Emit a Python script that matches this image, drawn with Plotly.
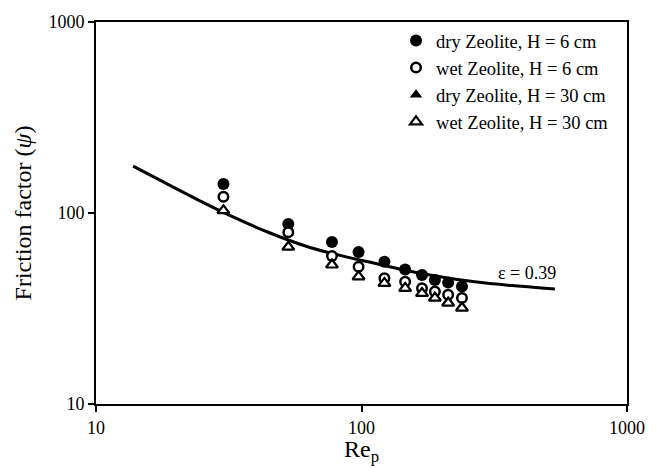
import plotly.graph_objects as go

# Data
re_p = [30.2, 53.0, 77.4, 97.5, 122, 146, 169, 189, 212, 239]
dry_6cm = [142, 87.5, 70.4, 62.5, 55.5, 50.6, 47.3, 44.6, 43.2, 41.2]
wet_6cm = [121.6, 79.3, 59.6, 52.3, 45.5, 43.7, 40.4, 38.8, 37.3, 35.9]
dry_30cm = [104, 67.0, 54.3, 47.2, 43.4, 40.9, 38.4, 36.4, 34.4, 32.4]
wet_30cm = [103, 66.3, 53.5, 46.4, 42.9, 40.4, 38.0, 35.9, 33.8, 31.8]

curve_re = [13.8, 18, 24.7, 30.3, 45, 64, 90, 112, 166, 267, 400, 535]
curve_psi = [176, 145, 115.5, 100.5, 78.8, 66.0, 58.4, 54.6, 48.4, 43.6, 41.3, 40.0]

serif = "Liberation Serif, Times New Roman, serif"

fig = go.Figure()
fig.add_trace(go.Scatter(x=curve_re, y=curve_psi, mode="lines", line=dict(color="black", width=3, shape="spline"),
                         showlegend=False, hoverinfo="skip"))
fig.add_trace(go.Scatter(x=re_p, y=dry_6cm, mode="markers", name="dry Zeolite, H = 6 cm",
                         marker=dict(symbol="circle", size=12, color="black", line=dict(color="black", width=0))))
fig.add_trace(go.Scatter(x=re_p, y=wet_6cm, mode="markers", name="wet Zeolite, H = 6 cm",
                         marker=dict(symbol="circle", size=9.5, color="white", line=dict(color="black", width=2.5))))
fig.add_trace(go.Scatter(x=re_p, y=dry_30cm, mode="markers", name="dry Zeolite, H = 30 cm",
                         marker=dict(symbol="triangle-up", size=11, color="black", line=dict(color="black", width=0))))
fig.add_trace(go.Scatter(x=re_p, y=wet_30cm, mode="markers", name="wet Zeolite, H = 30 cm",
                         marker=dict(symbol="triangle-up", size=10.5, color="white", line=dict(color="black", width=2.2))))

fig.add_annotation(x=2.623, y=1.687, xref="x", yref="y", text="ε = 0.39", showarrow=False,
                   font=dict(family=serif, size=18, color="black"))
# x-axis title
fig.add_annotation(x=0.5, y=-0.08, xref="paper", yref="paper", text="Re<sub>p</sub>", showarrow=False,
                   xanchor="center", yanchor="top", borderpad=0,
                   font=dict(family=serif, size=24, color="black"))

fig.update_layout(
    width=658, height=468,
    margin=dict(l=96, r=31, t=17, b=64),
    paper_bgcolor="white", plot_bgcolor="white",
    font=dict(family=serif, size=18, color="black"),
    legend=dict(x=0.565, y=1.0, xanchor="left", yanchor="top", bgcolor="rgba(0,0,0,0)",
                font=dict(family=serif, size=18.5, color="black"), tracegroupgap=0, itemwidth=30),
    showlegend=True,
)
fig.update_xaxes(type="log", range=[1, 3], tickvals=[10, 100, 1000], ticktext=["10", "100", "1000"],
                 showgrid=False, zeroline=False, showline=True, linecolor="black", linewidth=2, mirror=True,
                 ticks="outside", ticklen=6, tickwidth=2, tickcolor="black",
                 tickfont=dict(family=serif, size=18))
fig.update_yaxes(type="log", range=[1, 3], tickvals=[10, 100, 1000], ticktext=["10", "100", "1000"],
                 showgrid=False, zeroline=False, showline=True, linecolor="black", linewidth=2, mirror=True,
                 ticks="outside", ticklen=6, tickwidth=2, tickcolor="black",
                 tickfont=dict(family=serif, size=18),
                 title=dict(text="Friction factor (<i>ψ</i>)", font=dict(family=serif, size=24), standoff=10))

fig.write_html("out.html")
